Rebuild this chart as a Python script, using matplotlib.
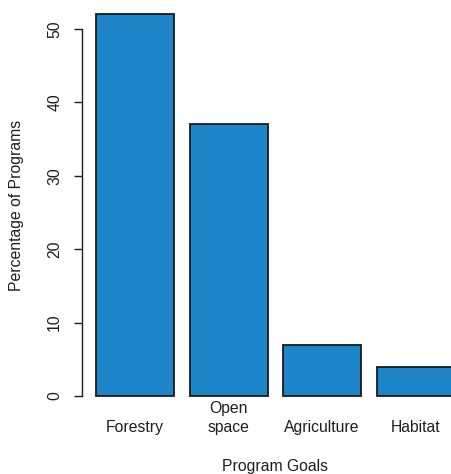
import matplotlib
matplotlib.use("Agg")
import matplotlib.pyplot as plt
from matplotlib.transforms import blended_transform_factory

categories = ["Forestry", "Open\nspace", "Agriculture", "Habitat"]
percentages = [52, 37, 7, 4]
y_ticks = [0, 10, 20, 30, 40, 50]

plt.rcParams["font.family"] = ["Liberation Sans", "DejaVu Sans"]
FS = 11.3
TEXT = "#1e1e1e"

W, H = 451, 474
fig = plt.figure(figsize=(W / 100, H / 100), dpi=100)
fig.patch.set_facecolor("white")

# plot region in pixels
left_px, right_px, top_px, bottom_px = 81.6, 451, 0, 411
ax = fig.add_axes([left_px / W, 1 - bottom_px / H,
                   (right_px - left_px) / W, (bottom_px - top_px) / H])

# R-style bar layout: width 1, space 0.2
width = 1.0
space = 0.2
lefts = [space + i * (width + space) for i in range(len(percentages))]
centers = [l + width / 2 for l in lefts]

ax.bar(centers, percentages, width=width, color="#1d85c8",
       edgecolor="#1a1a1a", linewidth=1.3)

ax.set_xlim(0.016, 0.2 + (right_px - 96) / 78.0)
ppu = 7.34
ax.set_ylim(-(bottom_px - 396) / ppu, 396 / ppu)

for s in ["top", "right", "bottom"]:
    ax.spines[s].set_visible(False)
ax.spines["left"].set_bounds(0, 50)
ax.spines["left"].set_linewidth(1.0)
ax.spines["left"].set_color(TEXT)

ax.set_yticks(y_ticks)
ax.set_yticklabels([str(t) for t in y_ticks], rotation=90, va="center",
                   ha="right", fontsize=FS, color=TEXT)
ax.tick_params(axis="y", length=6, width=1.0, pad=8, color=TEXT)

# category labels, bottom lines sharing one baseline
ax.set_xticks([])
trans = blended_transform_factory(ax.transData, fig.transFigure)
base_px = 432
line_px = 19
for c, lab in zip(centers, categories):
    lines = lab.split("\n")
    for k, line in enumerate(reversed(lines)):
        y = 1 - (base_px - k * line_px) / H
        ax.text(c, y, line, transform=trans, ha="center", va="baseline",
                fontsize=FS, color=TEXT, clip_on=False)

fig.text(275 / W, 1 - 471 / H, "Program Goals", ha="center",
         va="baseline", fontsize=FS, color=TEXT)
fig.text(17 / W, 1 - 205 / H, "Percentage of Programs", ha="center",
         va="center", rotation=90, fontsize=FS, color=TEXT)

fig.savefig("out.png", dpi=100)
